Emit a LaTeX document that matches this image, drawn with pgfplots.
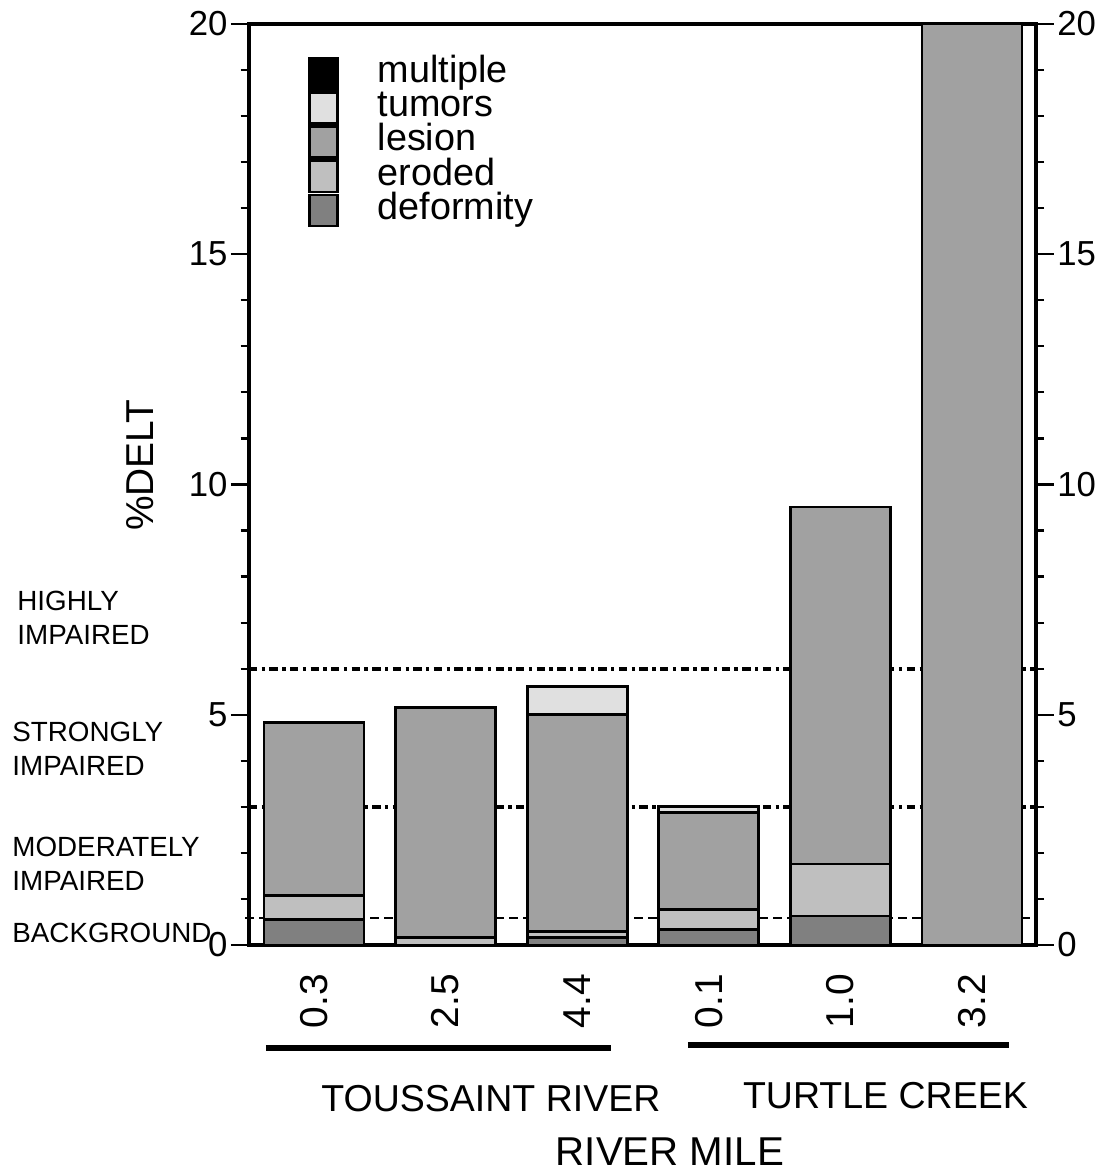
\documentclass[border=0pt]{standalone}
\usepackage{fontspec}
\setmainfont{Liberation Sans}
\usepackage{graphicx}
\usepackage{pgfplots}
\pgfplotsset{compat=1.18}
\definecolor{defcol}{gray}{0.50}
\definecolor{erocol}{gray}{0.75}
\definecolor{lescol}{gray}{0.63}
\definecolor{tumcol}{gray}{0.88}
\definecolor{mulcol}{gray}{0.0}
\pgfplotsset{delbase/.style={
    width=283.3pt, height=331.6pt, scale only axis,
    xmin=-0.494, xmax=5.486, ymin=0, ymax=20,
    ytick={0,5,10,15,20}, minor y tick num=4,
    tick align=outside, major tick length=6.5pt, minor tick length=3pt,
    tick style={line width=0.8pt, black},
    /pgf/number format/assume math mode=true,
    tick label style={font=\fontsize{12.5}{13}\selectfont},
    yticklabel style={inner sep=1pt},
}}

\begin{document}
\begin{tikzpicture}
\path[use as bounding box] (-89.6pt,-81.7pt) rectangle (309.6pt,340.2pt);
\begin{axis}[delbase,
    ybar stacked, bar width=36pt,
    axis line style={line width=1.4pt},
    ytick pos=left,
    xtick={0,1,2,3,4,5}, xticklabels={0.3,2.5,4.4,0.1,1.0,3.2},
    xtick style={draw=none},
    xticklabel style={rotate=90, anchor=east, font=\fontsize{14}{14}\selectfont},
    xticklabel shift=0.5pt,
    clip=false,
    reverse legend,
    legend image code/.code={\draw[#1, line width=0.9pt] (0pt,-5.6pt) rectangle (10pt,5.6pt);},
    legend style={at={(0.075,0.965)}, anchor=north west, draw=none, fill=none,
        inner sep=0pt, row sep=0pt, column sep=14pt,
        font=\fontsize{13.6}{14}\selectfont,
        nodes={inner sep=0pt, text height=9.3pt, text depth=3pt}},
    legend cell align=left,
]
\addplot[fill=defcol, draw=black, line width=1pt]
    coordinates {(0,0.56)(1,0)(2,0.16)(3,0.33)(4,0.63)(5,0)};
\addplot[fill=erocol, draw=black, line width=1pt]
    coordinates {(0,0.51)(1,0.16)(2,0.13)(3,0.44)(4,1.13)(5,0)};
\addplot[fill=lescol, draw=black, line width=1pt]
    coordinates {(0,3.76)(1,4.99)(2,4.72)(3,2.11)(4,7.75)(5,20)};
\addplot[fill=tumcol, draw=black, line width=1pt]
    coordinates {(0,0)(1,0)(2,0.60)(3,0.13)(4,0)(5,0)};
\addplot[fill=mulcol, draw=black, line width=1pt]
    coordinates {(0,0)(1,0)(2,0)(3,0)(4,0)(5,0)};
\legend{deformity, eroded, lesion, tumors, multiple}

% impairment thresholds
\draw[line width=1.4pt, dash pattern=on 3pt off 1.6pt on 1.2pt off 1.6pt]
    (axis cs:-0.494,6) -- (axis cs:5.486,6);
\draw[line width=1.4pt, dash pattern=on 3pt off 1.6pt on 1.2pt off 1.6pt]
    (axis cs:-0.494,3) -- (axis cs:5.486,3);
\draw[line width=0.8pt, dash pattern=on 3pt off 2pt]
    (axis cs:-0.52,0.58) -- (axis cs:5.44,0.58);

\node[anchor=base west, inner sep=0pt, font=\fontsize{10}{12}\selectfont] at (axis cs:-2.257,7.26) {HIGHLY};
\node[anchor=base west, inner sep=0pt, font=\fontsize{10}{12}\selectfont] at (axis cs:-2.257,6.52) {IMPAIRED};
\node[anchor=base west, inner sep=0pt, font=\fontsize{10}{12}\selectfont] at (axis cs:-2.295,4.43) {STRONGLY};
\node[anchor=base west, inner sep=0pt, font=\fontsize{10}{12}\selectfont] at (axis cs:-2.295,3.69) {IMPAIRED};
\node[anchor=base west, inner sep=0pt, font=\fontsize{10}{12}\selectfont] at (axis cs:-2.295,1.93) {MODERATELY};
\node[anchor=base west, inner sep=0pt, font=\fontsize{10}{12}\selectfont] at (axis cs:-2.295,1.19) {IMPAIRED};
\node[anchor=base west, inner sep=0pt, font=\fontsize{10}{12}\selectfont] at (axis cs:-2.295,0.065) {BACKGROUND};

\node[rotate=90, font=\fontsize{14}{14}\selectfont] at (axis cs:-1.322,10.42) {\%DELT};

\draw[line width=2.2pt] (axis cs:-0.365,-2.237) -- (axis cs:2.257,-2.237);
\draw[line width=2.2pt] (axis cs:2.842,-2.172) -- (axis cs:5.281,-2.172);
\node[anchor=base, inner sep=0pt, font=\fontsize{13.5}{14}\selectfont] at (axis cs:1.345,-3.605) {TOUSSAINT RIVER};
\node[anchor=base, inner sep=0pt, font=\fontsize{13.5}{14}\selectfont] at (axis cs:4.343,-3.54) {TURTLE CREEK};
\node[anchor=base, inner sep=0pt, font=\fontsize{14.5}{15}\selectfont] at (axis cs:2.705,-4.78) {RIVER MILE};
\end{axis}

\begin{axis}[delbase,
    hide x axis, axis y line*=right,
    axis line style={line width=0.8pt},
    ytick pos=right,
]
\addplot[draw=none, forget plot] coordinates {(0,0)(1,1)};
\end{axis}
\end{tikzpicture}
\end{document}
